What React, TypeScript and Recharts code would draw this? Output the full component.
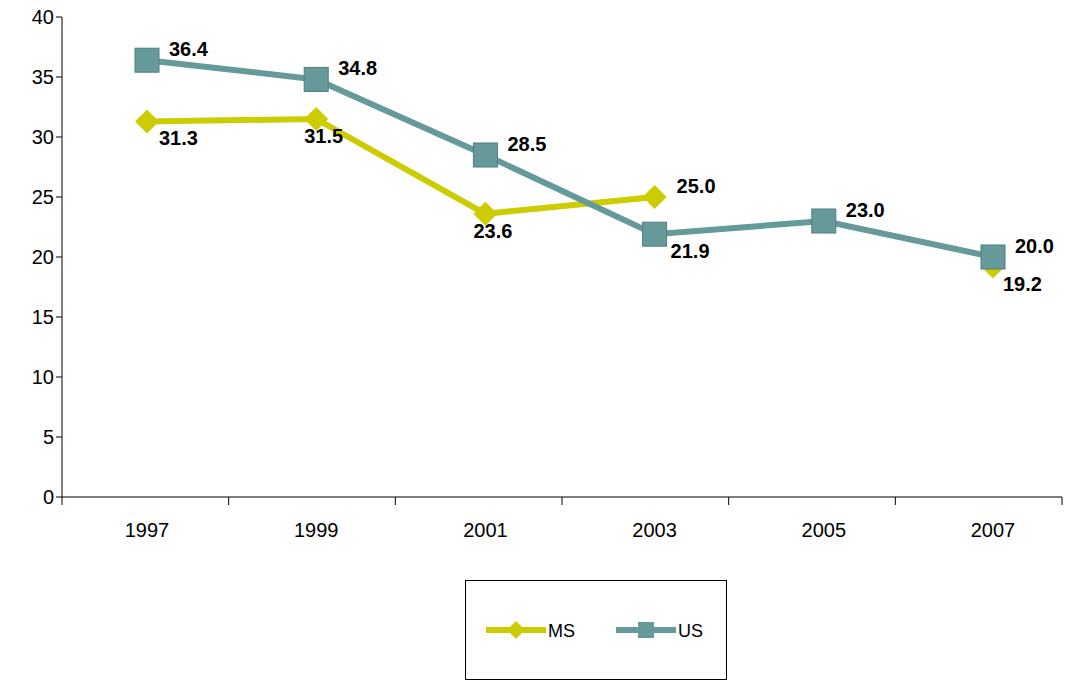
import React from "react";
import { LineChart, Line, XAxis, YAxis } from "recharts";

const years = ["1997", "1999", "2001", "2003", "2005", "2007"];
const msValues: (number | null)[] = [31.3, 31.5, 23.6, 25.0, null, 19.2];
const usValues: number[] = [36.4, 34.8, 28.5, 21.9, 23.0, 20.0];
const msLabelBelow = [true, true, true, false, false, true];
const usLabelBelow = [false, false, false, true, false, false];

const data = years.map((y, i) => ({ year: y, MS: msValues[i], US: usValues[i] }));

const MS_COLOR = "#cccc00";
const US_COLOR = "#669999";

const Diamond = (props: any) => {
  const { cx, cy } = props;
  if (cx == null || cy == null || props.value == null) return null;
  const r = 12;
  return (
    <polygon
      points={`${cx},${cy - r} ${cx + r},${cy} ${cx},${cy + r} ${cx - r},${cy}`}
      fill={MS_COLOR}
    />
  );
};

const Square = (props: any) => {
  const { cx, cy } = props;
  if (cx == null || cy == null) return null;
  return <rect x={cx - 12} y={cy - 12} width={24} height={24} fill={US_COLOR} stroke="#4d8080" strokeWidth={1} />;
};

const makeLabel = (below: boolean[], dxBelow: number[]) => (props: any) => {
  const { x, y, value, index } = props;
  if (value == null) return null;
  const b = below[index];
  return (
    <text
      x={x + (b ? dxBelow[index] : 22)}
      y={y + (b ? 24 : -4)}
      fontSize={20}
      fontWeight="bold"
      fontFamily="Arial, Liberation Sans, sans-serif"
      fill="#000"
    >
      {value.toFixed(1)}
    </text>
  );
};

const axisFont = { fontSize: 20, fill: "#000", fontFamily: "Arial, Liberation Sans, sans-serif" };

export default function App() {
  return (
    <div style={{ position: "absolute", left: 0, top: 0, width: 1073, height: 682, background: "#fff" }}>
      <LineChart width={1073} height={682} data={data} margin={{ top: 17, right: 11, left: 0, bottom: 0 }}>
        <XAxis
          dataKey="year"
          height={185}
          stroke="#000"
          tick={axisFont}
          tickLine={false}
          padding={{ left: 85, right: 69 }}
          dy={18}
        />
        <YAxis
          width={62}
          domain={[0, 40]}
          ticks={[0, 5, 10, 15, 20, 25, 30, 35, 40]}
          stroke="#000"
          tick={axisFont}
          tickSize={6}
          interval={0}
        />
        <Line
          dataKey="MS"
          stroke={MS_COLOR}
          strokeWidth={6}
          dot={<Diamond />}
          connectNulls={false}
          isAnimationActive={false}
          label={makeLabel(msLabelBelow, [12, -12, -12, 0, 0, 10])}
        />
        <Line
          dataKey="US"
          stroke={US_COLOR}
          strokeWidth={6}
          dot={<Square />}
          isAnimationActive={false}
          label={makeLabel(usLabelBelow, [0, 0, 0, 16, 0, 0])}
        />
      </LineChart>
      {/* x axis band tick marks */}
      <svg style={{ position: "absolute", left: 0, top: 0 }} width={1073} height={682}>
        {[0, 1, 2, 3, 4, 5, 6].map((i) => {
          const x = 62 + (i * 1000) / 6;
          return <line key={i} x1={x} x2={x} y1={497} y2={505} stroke="#000" />;
        })}
      </svg>
      <div
        style={{
          position: "absolute",
          left: 465,
          top: 580,
          width: 260,
          height: 98,
          border: "1px solid #000",
          fontFamily: "Arial, Liberation Sans, sans-serif",
          fontSize: 18,
        }}
      >
        <svg width={260} height={98}>
          <line x1={20} x2={80} y1={49} y2={49} stroke={MS_COLOR} strokeWidth={6} />
          <polygon points="50,40 59,49 50,58 41,49" fill={MS_COLOR} />
          <text x={82} y={56}>MS</text>
          <line x1={150} x2={210} y1={49} y2={49} stroke={US_COLOR} strokeWidth={6} />
          <rect x={172} y={41} width={16} height={16} fill={US_COLOR} />
          <text x={212} y={56}>US</text>
        </svg>
      </div>
    </div>
  );
}
